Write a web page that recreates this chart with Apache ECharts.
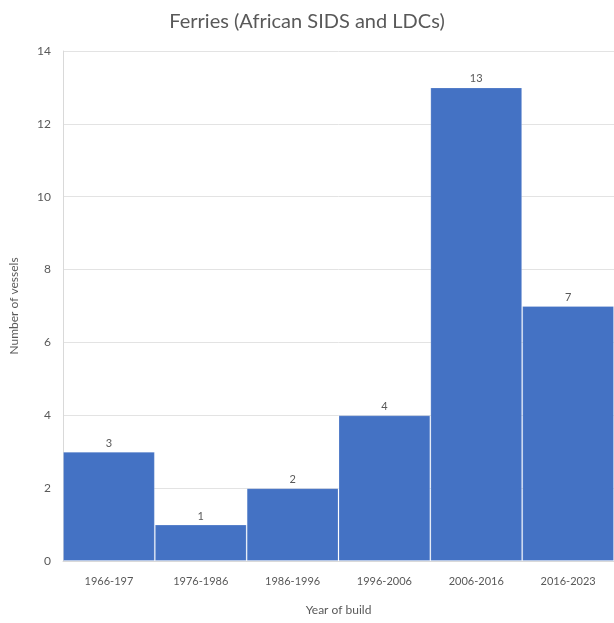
<!DOCTYPE html>
<html><head><meta charset="utf-8">
<script src="https://cdn.jsdelivr.net/npm/echarts@6/dist/echarts.min.js"></script>
<style>html,body{margin:0;padding:0;background:#fff}#c{width:614px;height:623px}</style>
</head><body><div id="c"></div>
<script>
const categories = ['1966-197','1976-1986','1986-1996','1996-2006','2006-2016','2016-2023'];
const vessels = [3,1,2,4,13,7];
const yTicks = {min:0,max:14,interval:2};

const chart = echarts.init(document.getElementById('c'));
const txt = '#595959';
const font = 'Lato';
chart.setOption({
  animation:false,
  title:{text:'Ferries (African SIDS and LDCs)',left:'center',top:7,
    textStyle:{fontFamily:font,fontSize:20,fontWeight:'normal',color:txt}},
  grid:{left:61,right:-1,top:51,bottom:62,containLabel:false},
  xAxis:{type:'category',data:categories,
    axisLine:{show:true,lineStyle:{color:'#d9d9d9'}},axisTick:{show:false},
    axisLabel:{fontFamily:font,fontSize:11,color:txt,margin:15},
    name:'Year of build',nameLocation:'middle',nameGap:43,
    nameTextStyle:{fontFamily:font,fontSize:12,color:txt}},
  yAxis:{type:'value',min:yTicks.min,max:yTicks.max,interval:yTicks.interval,
    axisLine:{show:true,lineStyle:{color:'#d9d9d9'}},axisTick:{show:false},
    splitLine:{lineStyle:{color:'#e3e3e3'}},
    axisLabel:{fontFamily:font,fontSize:12,color:txt,margin:12},
    name:'Number of vessels',nameLocation:'middle',nameGap:43,nameRotate:90,
    nameTextStyle:{fontFamily:font,fontSize:12,color:txt}},
  series:[{type:'bar',data:vessels,barCategoryGap:'0%',
    itemStyle:{color:'#4472C4',borderColor:'rgba(255,255,255,0.2)',borderWidth:1},
    label:{show:true,position:'top',distance:3,fontFamily:font,fontSize:11,color:txt}}]
});
</script></body></html>
